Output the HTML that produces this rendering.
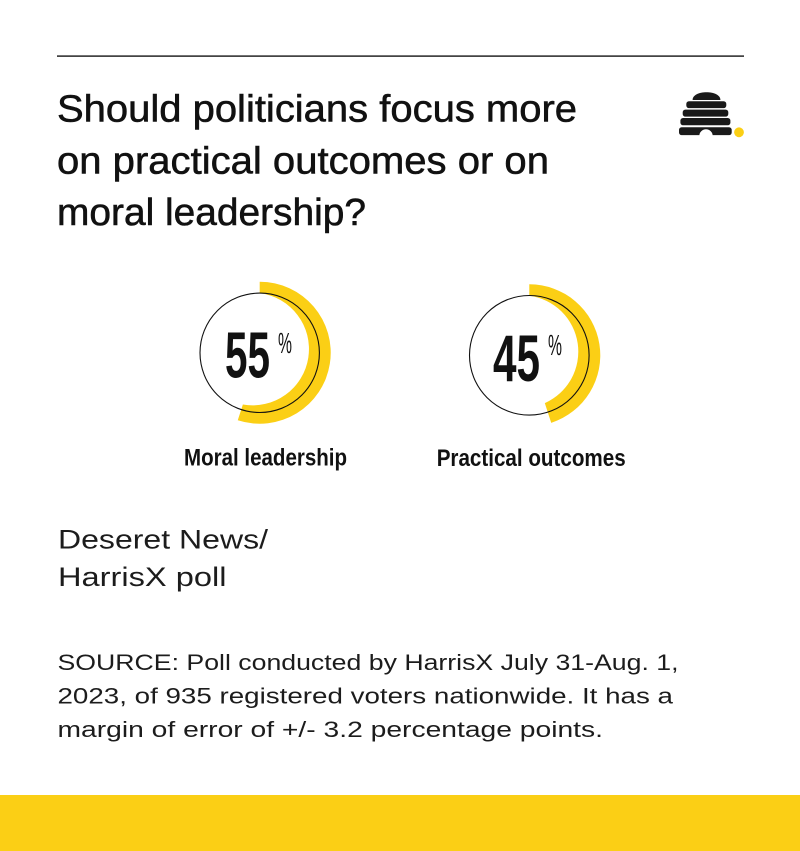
<!DOCTYPE html>
<html>
<head>
<meta charset="utf-8">
<style>
  html, body { margin: 0; padding: 0; background: #ffffff; }
  body { width: 800px; height: 851px; overflow: hidden; }
  svg { display: block; }
  text { font-family: "Liberation Sans", "DejaVu Sans", sans-serif; }
</style>
</head>
<body>
<svg width="800" height="851" viewBox="0 0 800 851" xmlns="http://www.w3.org/2000/svg">
  <rect x="0" y="0" width="800" height="851" fill="#ffffff"/>

  <!-- top rule -->
  <rect x="57" y="55.4" width="687" height="1.4" fill="#161616"/>

  <!-- title -->
  <g fill="#111111" stroke="#111111" stroke-width="0.55" font-size="38">
    <text x="57" y="121.7" textLength="520" lengthAdjust="spacingAndGlyphs">Should politicians focus more</text>
    <text x="57" y="173.3" textLength="492" lengthAdjust="spacingAndGlyphs">on practical outcomes or on</text>
    <text x="57" y="225" textLength="309" lengthAdjust="spacingAndGlyphs">moral leadership?</text>
  </g>

  <!-- logo -->
  <g fill="#1a1a1a">
    <path d="M692.6,100 C692.6,95 699,92.3 706.5,92.3 C714,92.3 720.4,95 720.4,100 Z"/>
    <rect x="686.3" y="101.3" width="40" height="6.8" rx="2.6"/>
    <rect x="682.7" y="109.6" width="45.6" height="7" rx="2.6"/>
    <rect x="680.4" y="118" width="50" height="7.2" rx="2.6"/>
    <rect x="679" y="127.2" width="52.7" height="7.9" rx="2.6"/>
  </g>
  <path d="M699.3,136 A6.7,6.7 0 0 1 712.7,136 Z" fill="#ffffff"/>
  <circle cx="739" cy="132.3" r="4.9" fill="#FBCF15"/>

  <!-- donut 1 -->
  <path d="M 259.7 281.7 A 71 71 0 1 1 237.76 420.22 L 242.87 404.48 A 56.3 56.3 0 1 0 259.7 293.18 Z" fill="#FBCF15"/>
  <circle cx="259.7" cy="352.8" r="59.7" fill="none" stroke="#111111" stroke-width="1.1"/>
  <text x="225" y="377.6" font-size="65" font-weight="bold" fill="#111111" textLength="45" lengthAdjust="spacingAndGlyphs">55</text>
  <text x="278" y="353" font-size="29" fill="#111111" textLength="14" lengthAdjust="spacingAndGlyphs">%</text>
  <text x="184" y="465.5" font-size="24" font-weight="bold" fill="#111111" textLength="163" lengthAdjust="spacingAndGlyphs">Moral leadership</text>

  <!-- donut 2 -->
  <path d="M 529.3 284.3 A 71 71 0 0 1 551.24 422.82 L 544.82 403.07 A 56.3 56.3 0 0 0 529.3 295.78 Z" fill="#FBCF15"/>
  <circle cx="529.3" cy="355.3" r="59.8" fill="none" stroke="#111111" stroke-width="1.1"/>
  <text x="493" y="380.8" font-size="66" font-weight="bold" fill="#111111" textLength="47" lengthAdjust="spacingAndGlyphs">45</text>
  <text x="548" y="355" font-size="29" fill="#111111" textLength="14" lengthAdjust="spacingAndGlyphs">%</text>
  <text x="436.7" y="466" font-size="24" font-weight="bold" fill="#111111" textLength="189" lengthAdjust="spacingAndGlyphs">Practical outcomes</text>

  <!-- poll name -->
  <g fill="#1c1c1c" font-size="27">
    <text x="58" y="548.3" textLength="210" lengthAdjust="spacingAndGlyphs">Deseret News/</text>
    <text x="58" y="586" textLength="168.5" lengthAdjust="spacingAndGlyphs">HarrisX poll</text>
  </g>

  <!-- source -->
  <g fill="#1c1c1c" font-size="22">
    <text x="57.5" y="669.8" textLength="621" lengthAdjust="spacingAndGlyphs">SOURCE: Poll conducted by HarrisX July 31-Aug. 1,</text>
    <text x="57.5" y="703.6" textLength="615.5" lengthAdjust="spacingAndGlyphs">2023, of 935 registered voters nationwide. It has a</text>
    <text x="57.5" y="737" textLength="545.5" lengthAdjust="spacingAndGlyphs">margin of error of +/- 3.2 percentage points.</text>
  </g>

  <!-- bottom band -->
  <rect x="0" y="795" width="800" height="56" fill="#FBCF15"/>
</svg>
</body>
</html>
